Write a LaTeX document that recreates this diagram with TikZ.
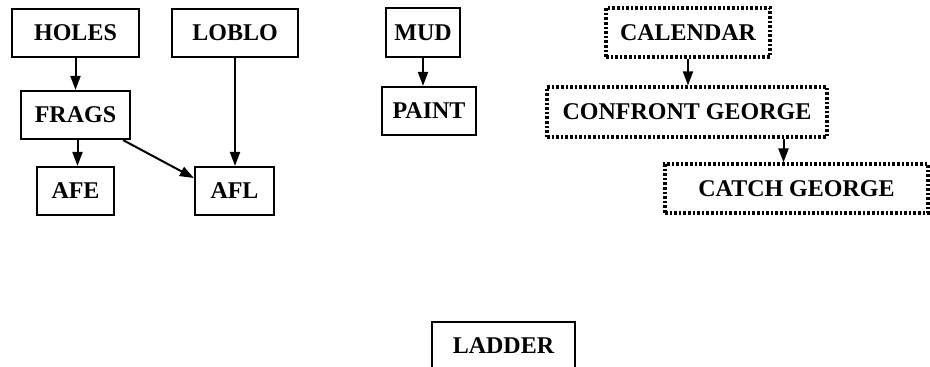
\documentclass[tikz,border=0pt]{standalone}
\usepackage{fontspec}
\setmainfont{Liberation Serif}
\usetikzlibrary{arrows.meta}
\begin{document}
\begin{tikzpicture}[x=1pt,y=1pt,
  box/.style={draw, line width=2.2pt, inner sep=0pt, font=\fontsize{24}{28}\selectfont\bfseries},
  dbox/.style={box, line width=3.2pt, dash pattern=on 2.6pt off 2pt},
  arr/.style={line width=2pt, -{Triangle[length=14pt,width=10pt]}}]
\clip (0,0) rectangle (930,-367);
\fill[white] (0,0) rectangle (930,-367);
\node[box, minimum width=127pt, minimum height=48pt] (holes) at (75.5,-33) {HOLES};
\node[box, minimum width=126pt, minimum height=48pt] (loblo) at (235,-33) {LOBLO};
\node[box, minimum width=109pt, minimum height=48pt] (frags) at (75.5,-115) {FRAGS};
\node[box, minimum width=77pt, minimum height=48pt] (afe) at (75.5,-191) {AFE};
\node[box, minimum width=79pt, minimum height=48pt] (afl) at (234.5,-191) {AFL};
\node[box, minimum width=74pt, minimum height=49pt] (mud) at (423,-32.5) {MUD};
\node[box, minimum width=94pt, minimum height=48pt] (paint) at (429,-111) {PAINT};
\node[dbox, minimum width=164pt, minimum height=49pt] (cal) at (688,-32.5) {CALENDAR};
\node[dbox, minimum width=280pt, minimum height=50pt] (conf) at (687,-112) {CONFRONT GEORGE};
\node[dbox, minimum width=263pt, minimum height=49pt] (catch) at (796.5,-188.5) {CATCH GEORGE};
\node[box, minimum width=143pt, minimum height=48pt] (ladder) at (503.5,-346) {LADDER};
\draw[arr] (holes.south) -- (frags.north);
\draw[arr] ([xshift=2pt]frags.south) -- ([xshift=2pt]afe.north);
\draw[arr] (loblo.south) -- (loblo.south |- afl.north);
\draw[arr] ([xshift=-8pt]frags.south east) -- ([yshift=13pt]afl.west);
\draw[arr] (mud.south) -- (mud.south |- paint.north);
\draw[arr] (cal.south) -- (cal.south |- conf.north);
\draw[arr] ([xshift=-13pt]catch.north |- conf.south) -- ([xshift=-13pt]catch.north);
\end{tikzpicture}
\end{document}
